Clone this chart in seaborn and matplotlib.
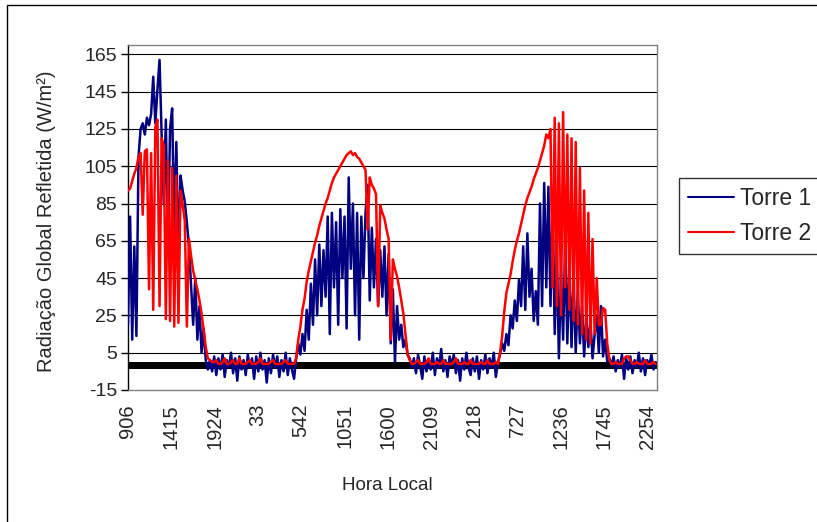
import numpy as np
import pandas as pd
import seaborn as sns
import matplotlib
matplotlib.use("Agg")
import matplotlib.pyplot as plt
from matplotlib.patches import Rectangle
from matplotlib.lines import Line2D

# Readings every 15 minutes, starting at 9:06 local time
passo_min = 15
rotulos_hora = ["906", "1415", "1924", "33", "542", "1051", "1600",
                "2109", "218", "727", "1236", "1745", "2254"]
intervalo_rotulos = 309  # minutes between consecutive hour labels

# Torre 1 (W/m2)
torre1_dia1 = [20, 78, 12, 62, 14, 110, 125, 128, 122, 131, 127, 133, 153, 128, 146,
               162, 122, 85, 130, 60, 125, 136, 70, 118, 55, 100, 92, 86, 75, 62,
               41, 20, 45, 12, 30, 5, 18, 1, -4]
torre1_noite1 = [1, -5, 3, -7, 2, -4, 4, -8, 1, -3, 5, -6, 2, -10, 3, -4, 1, -7, 4, -3,
                 2, -9, 3, -5, 5, -4, 1, -11, 2, -6, 4, -3, 3, -8, 1, -5, 5, -7, 2, -4, -9]
torre1_dia2 = [2, 10, 4, 15, 6, 28, 12, 42, 20, 55, 25, 63, 30, 60, 35, 78, 15, 80, 40, 75,
               20, 82, 45, 78, 18, 99, 50, 85, 25, 80, 12, 78, 45, 80, 95, 33, 72, 40, 66, 30,
               60, 35, 62, 25, 58, 10, 39, 0, 30, 12, 20, 8, 12, 4, 2]
torre1_noite2 = [-3, 2, -6, 4, -2, -9, 3, -5, 1, -4, 5, -7, 2, -3, 7, -5, 1, -8, 3, -2,
                 4, -6, 1, -10, 2, -4, 5, -3, -7, 2, -5, 3, -9, 1, -4, 4, -6, 2, -3, 5, -8, 0]
torre1_dia3 = [4, 10, 6, 15, 9, 25, 18, 33, 22, 44, 30, 62, 28, 69, 35, 50, 22, 38, 20, 85,
               30, 96, 40, 94, 30, 87, 15, 60, 2, 48, 12, 65, 10, 55, 8, 45, 5, 38, 10, 30,
               3, 25, 8, 22, 2, 15, 25, 5, 30, 3, 12, 0, 2]
torre1_noite3 = [-2, 3, -5, 1, -3, 4, -9, 2, -4, 3, -6, 1, -3, 5, -5, 2, -7, 1, -2, 4, -4, 0]

# Torre 2 (W/m2)
torre2_dia1 = [92, 93, 97, 101, 104, 110, 112, 79, 113, 114, 39, 112, 28, 126, 130, 30,
               120, 116, 23, 108, 22, 104, 19, 100, 21, 92, 84, 76, 19, 66, 57, 49, 44,
               39, 33, 26, 17, 8, 2]
torre2_noite1 = [1, 0, 0, 1, -1, -1, 0, 2, -1, -1, 0, 1, -1, -1, 2, -1, -1, -1, 0, 1, -1,
                 -1, -1, 0, 2, -1, -1, -1, -1, 0, 1, -1, -1, -1, -1, 0, 1, -1, -1, -1, -1]
torre2_dia2 = [2, 12, 19, 28, 34, 43, 49, 54, 59, 64, 68, 73, 77, 81, 85, 88, 92, 96, 99, 101,
               103, 105, 107, 109, 111, 112, 113, 111, 112, 110, 109, 107, 105, 103, 71, 99,
               95, 93, 90, 30, 84, 80, 77, 71, 66, 12, 55, 50, 46, 40, 33, 26, 15, 4, 1]
torre2_noite2 = [-1, -1, 0, 1, -1, -1, -1, 0, 2, -1, -1, -1, 0, -1, -1, 1, -1, -1, -1, -1,
                 0, 2, -1, -1, -1, 0, -1, -1, 1, -1, -1, -1, -1, 0, -1, -1, 1, -1, -1, -1, 0, -1]
torre2_dia3 = [5, 14, 27, 37, 42, 47, 54, 60, 65, 69, 74, 79, 84, 88, 91, 94, 98, 101, 104,
               108, 112, 116, 122, 120, 125, 40, 131, 30, 128, 25, 134, 40, 122, 28, 120, 22,
               118, 20, 104, 15, 92, 12, 80, 10, 66, 15, 45, 20, 20, 29, 28, 10, 1]
torre2_noite3 = [-1, -1, 0, -1, -1, -1, 2, 3, 3, 1, -1, -1, 0, -1, -1, -1, 1, -1, -1, -1, 0, -1]

torre1 = np.concatenate([torre1_dia1, torre1_noite1, torre1_dia2,
                         torre1_noite2, torre1_dia3, torre1_noite3])
torre2 = np.concatenate([torre2_dia1, torre2_noite1, torre2_dia2,
                         torre2_noite2, torre2_dia3, torre2_noite3])
n = len(torre1)
minutos = np.arange(n) * passo_min

df = pd.DataFrame({
    "Minuto": np.concatenate([minutos, minutos]),
    "Radiação": np.concatenate([torre1, torre2]),
    "Série": ["Torre 1"] * n + ["Torre 2"] * n,
})

cores = {"Torre 1": "#000080", "Torre 2": "#FF0000"}

sns.set_theme(style="white")
plt.rcParams["font.family"] = ["Liberation Sans", "DejaVu Sans"]

fig = plt.figure(figsize=(8.17, 5.22), dpi=100)
ax = fig.add_axes([128 / 817, 1 - 390 / 522, (657 - 128) / 817, (390 - 45) / 522])

sns.lineplot(data=df, x="Minuto", y="Radiação", hue="Série", palette=cores,
             estimator=None, linewidth=1.8, legend=False, ax=ax, zorder=3)

# value axis
yticks = np.arange(-15, 166, 20)
ax.set_ylim(-15, 170)
ax.set_yticks(yticks)
ax.set_yticklabels([str(v) for v in yticks])
for v in yticks[1:]:
    ax.axhline(v, color="black", lw=0.8, zorder=1)

# category axis crossing at zero, with its dense tick marks
ax.axhspan(-4.0, 0, color="black", lw=0, zorder=2)

ax.set_xlim(0, 3775)
ax.set_xticks(np.arange(len(rotulos_hora)) * intervalo_rotulos)
ax.set_xticklabels(rotulos_hora, rotation=90)

ax.tick_params(axis="y", direction="out", length=5, width=1, color="black",
               labelsize=14, pad=3, left=True)
ax.tick_params(axis="x", length=0, labelsize=14.5, pad=10)

for lado in ["top", "right", "bottom"]:
    ax.spines[lado].set_color("#808080")
    ax.spines[lado].set_linewidth(1)
ax.spines["left"].set_color("black")
ax.spines["left"].set_linewidth(1)

ax.set_ylabel("Radiação Global Refletida (W/m²)", fontsize=14.5)
ax.yaxis.set_label_coords(-0.136, 0.49)
ax.set_xlabel("Hora Local", fontsize=13.5)
ax.xaxis.set_label_coords(0.49, -0.252)

handles = [Line2D([], [], color=cores[k], lw=1.5) for k in cores]
leg = ax.legend(handles, list(cores), loc="upper left",
                bbox_to_anchor=(679 / 817, 1 - 178 / 522), bbox_transform=fig.transFigure,
                fontsize=16.5, frameon=True, fancybox=False, shadow=False,
                handlelength=2.0, handletextpad=0.25, labelspacing=0.5,
                borderpad=0.4, borderaxespad=0)
leg.get_frame().set_edgecolor("black")
leg.get_frame().set_linewidth(1)
leg.get_frame().set_facecolor("white")

# chart area border
fig.patches.append(Rectangle((7 / 817, -0.05), 1.1, 1.05 - 5 / 522, transform=fig.transFigure,
                             fill=False, edgecolor="black", lw=1))

fig.savefig("out.png", dpi=100)
